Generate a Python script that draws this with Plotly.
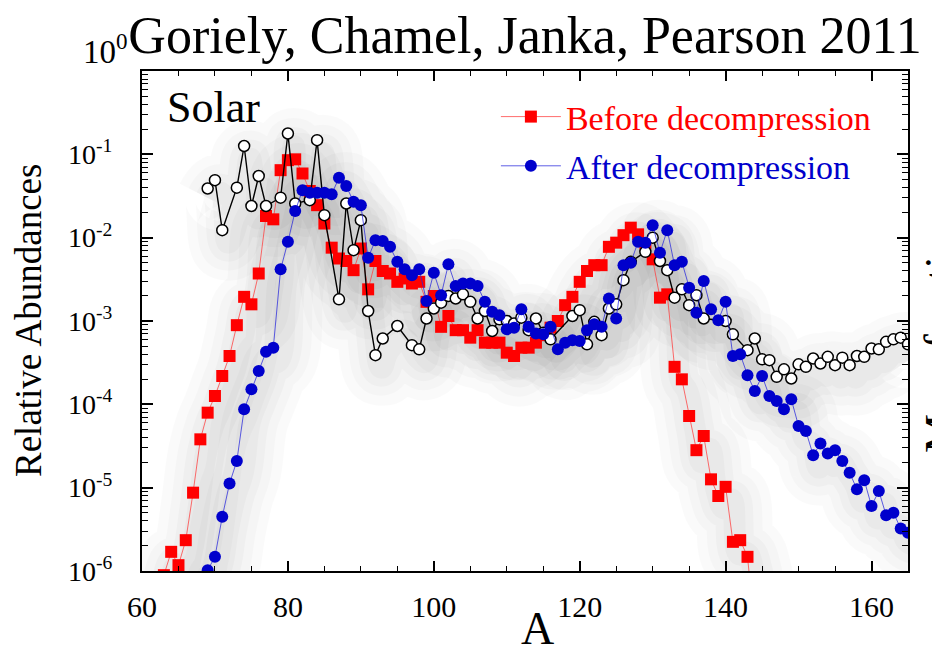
import numpy as np
import plotly.graph_objects as go

SERIF = "Times New Roman, Liberation Serif, serif"

# Solar r-process residuals: mass number and log10 relative abundance
solar_a = [69, 70, 71, 73, 74, 75, 76, 77, 79, 80, 81, 83, 84, 85, 87, 88, 89, 90,
           91, 92, 93, 95, 97, 98, 99, 100, 101, 102, 103, 104, 105, 106, 107, 108,
           109, 110, 111, 112, 113, 114, 115, 116, 119, 120, 121, 122, 123, 124, 125,
           126, 127, 129, 130, 131, 132, 133, 134, 135, 136, 137, 140, 141, 143, 144,
           145, 146, 147, 148, 149, 150, 151, 152, 153, 154, 155, 156, 157, 158, 159,
           160, 161, 162, 163, 164, 165]
solar_log = [-1.41, -1.31, -1.91, -1.40, -0.90, -1.62, -1.26, -1.62, -1.52, -0.75,
             -1.59, -1.55, -0.83, -1.73, -2.74, -1.59, -2.15, -1.79,
             -2.88, -3.41, -3.21, -3.06, -3.29, -3.34, -2.97, -2.85, -2.78, -2.70,
             -2.73, -2.68, -2.77, -2.97, -2.88, -3.12,
             -2.98, -3.00, -3.03, -2.96, -3.11, -2.97, -3.14, -3.22, -2.94, -2.87,
             -3.28, -3.01, -3.17, -2.85, -2.80,
             -2.51, -2.29, -2.17, -2.00, -2.28, -2.39, -2.72, -2.62, -2.81, -2.69,
             -2.97, -3.00, -3.16, -3.35, -3.21,
             -3.46, -3.47, -3.67, -3.58, -3.69, -3.52, -3.55, -3.45, -3.51, -3.43,
             -3.53, -3.44, -3.53, -3.42, -3.43,
             -3.33, -3.34, -3.25, -3.22, -3.20, -3.28]

# Ejecta composition before decompression (A = 63 ... 144)
before_a = list(range(63, 145))
before_log = [-6.05, -5.77, -5.93, -5.63, -5.06, -4.42, -4.10, -3.90, -3.66, -3.42,
              -3.05, -2.71, -2.80, -2.43, -1.74, -1.78, -1.19, -1.07, -1.06, -1.23,
              -1.44, -1.61, -1.83, -2.12, -2.25, -2.28, -2.39, -2.13, -2.62, -2.28,
              -2.40, -2.43, -2.53, -2.49, -2.55, -2.53, -2.77, -2.70, -3.07, -2.94,
              -3.11, -3.11, -3.20, -3.11, -3.26, -3.26, -3.26, -3.38, -3.42, -3.32,
              -3.32, -3.26, -3.17, -3.08, -3.00, -2.81, -2.71, -2.53, -2.40, -2.33,
              -2.33, -2.11, -2.06, -1.97, -1.88, -1.96, -2.07, -2.26, -2.72, -2.68,
              -3.55, -3.70, -4.14, -4.55, -4.38, -4.90, -5.10, -4.99, -5.65, -5.63,
              -5.83, -6.70]

# Ejecta composition after decompression (A = 68 ... 165)
after_a = list(range(68, 166))
after_log = [-6.50, -5.99, -5.83, -5.35, -4.95, -4.68, -4.06, -3.82, -3.60, -3.37,
             -3.32, -2.38, -2.05, -1.68, -1.43, -1.46, -1.46, -1.46, -1.48, -1.28,
             -1.38, -1.57, -1.61, -2.24, -2.03, -2.04, -2.11, -2.29, -2.38, -2.45,
             -2.38, -2.76, -2.42, -2.69, -2.32, -2.58, -2.55, -2.55, -2.58, -2.77,
             -2.89, -2.93, -3.10, -3.08, -2.86, -3.07, -3.15, -3.16, -3.07, -3.34,
             -3.26, -3.23, -3.24, -3.11, -3.04, -3.07, -2.73, -2.97, -2.33, -2.30,
             -2.05, -2.06, -1.85, -2.18, -1.91, -2.33, -2.29, -2.60, -2.90, -2.52,
             -2.86, -2.99, -2.77, -3.42, -3.40, -3.65, -3.84, -3.66, -3.90, -3.96,
             -4.06, -3.94, -4.26, -4.32, -4.61, -4.47, -4.59, -4.55, -4.68, -4.82,
             -5.02, -4.91, -5.22, -5.04, -5.33, -5.30, -5.49, -5.54]

x_ticks = [60, 80, 100, 120, 140, 160]
y_tick_exponents = [-1, -2, -3, -4, -5, -6]

solar = 10.0 ** np.array(solar_log)
before = 10.0 ** np.array(before_log)
after = 10.0 ** np.array(after_log)

RED = "#ff0000"
BLUE = "#0000cc"

fig = go.Figure()

# soft grey drop shadow under each curve, built from the same series
SHADOW_DROP = 10.0 ** -0.15
for xs, ys in ((before_a, before), (solar_a, solar), (after_a, after)):
    for w, alpha in ((76, 0.018), (56, 0.02), (38, 0.022), (22, 0.022)):
        fig.add_trace(go.Scatter(
            x=np.array(xs) + 0.8, y=ys * SHADOW_DROP, mode="lines",
            line=dict(color=f"rgba(0,0,0,{alpha})", width=w, shape="spline",
                      smoothing=1.3),
            hoverinfo="skip", showlegend=False,
        ))

fig.add_trace(go.Scatter(
    x=before_a, y=before, mode="lines+markers",
    name='<span style="color:#ff0000">Before decompression</span>',
    line=dict(color="rgba(255,60,60,0.75)", width=1),
    marker=dict(symbol="square", size=12, color=RED, line=dict(width=0)),
    legendgroup="b",
))
fig.add_trace(go.Scatter(
    x=solar_a, y=solar, mode="lines+markers", name="Solar", showlegend=False,
    line=dict(color="black", width=1.4),
    marker=dict(symbol="circle", size=11, color="white",
                line=dict(color="black", width=1.5)),
))
fig.add_trace(go.Scatter(
    x=after_a, y=after, mode="lines+markers",
    name='<span style="color:#0000cc">After decompression</span>',
    line=dict(color="rgba(40,40,220,0.75)", width=1),
    marker=dict(symbol="circle", size=12, color=BLUE, line=dict(width=0)),
    legendgroup="a",
))

axis_common = dict(
    showline=True, linecolor="black", linewidth=2, mirror="ticks",
    ticks="inside", tickcolor="black", showgrid=False, zeroline=False,
)

fig.update_xaxes(
    range=[60, 165], tickvals=x_ticks, ticklen=10, tickwidth=1.5,
    minor=dict(ticks="inside", ticklen=5, dtick=5, tickcolor="black", tickwidth=1.2),
    tickfont=dict(family=SERIF, size=30, color="black"),
    ticklabelstandoff=8,
    **axis_common,
)
fig.update_yaxes(
    type="log", range=[-6, 0],
    tickvals=[10.0 ** e for e in y_tick_exponents],
    ticktext=[f"10<sup>{e}</sup>" for e in y_tick_exponents],
    ticklen=11, tickwidth=1.5,
    minor=dict(ticks="inside", ticklen=6, dtick="D1", tickcolor="black", tickwidth=1.2),
    tickfont=dict(family=SERIF, size=28, color="black"),
    ticklabelstandoff=22,
    **axis_common,
)

fig.update_layout(
    template="none",
    width=932, height=649,
    margin=dict(l=142, r=24, t=71, b=78),
    paper_bgcolor="white", plot_bgcolor="white",
    font=dict(family=SERIF, size=28, color="black"),
    title=dict(text="Goriely, Chamel, Janka, Pearson 2011",
               font=dict(family=SERIF, size=52, color="black"),
               x=0.5, xref="paper", xanchor="center",
               y=1 - 35 / 649, yref="container", yanchor="middle"),
    legend=dict(x=0.462, y=0.966, xanchor="left", yanchor="top",
                font=dict(family=SERIF, size=34), itemwidth=60,
                bgcolor="rgba(0,0,0,0)", tracegroupgap=2, traceorder="grouped"),
    showlegend=True,
)

fig.add_annotation(text="Solar", x=0.03, y=0.927, xref="paper", yref="paper",
                   xanchor="left", yanchor="middle", showarrow=False,
                   font=dict(family=SERIF, size=44, color="black"))
fig.add_annotation(text="10<sup>0</sup>", x=0, y=1, xref="paper", yref="paper",
                   xanchor="right", yanchor="middle", xshift=-12, yshift=22,
                   showarrow=False, font=dict(family=SERIF, size=33, color="black"))
fig.add_annotation(text="Relative Abundances", textangle=-90,
                   x=(28 - 142) / 766, y=0.5, xref="paper", yref="paper",
                   xanchor="center", yanchor="middle", showarrow=False,
                   font=dict(family=SERIF, size=37, color="black"))
fig.add_annotation(text="A", x=(537 - 142) / 766, y=-(628 - 571) / 500,
                   xref="paper", yref="paper", xanchor="center", yanchor="middle",
                   showarrow=False, font=dict(family=SERIF, size=46, color="black"))
fig.add_annotation(text="Mass fraction", textangle=-90,
                   x=(940 - 142) / 766, y=0.5 - (333 - 321) / 500, xref="paper", yref="paper",
                   xanchor="center", yanchor="middle", showarrow=False,
                   font=dict(family=SERIF, size=44, color="black"))

fig.write_html("out.html")
